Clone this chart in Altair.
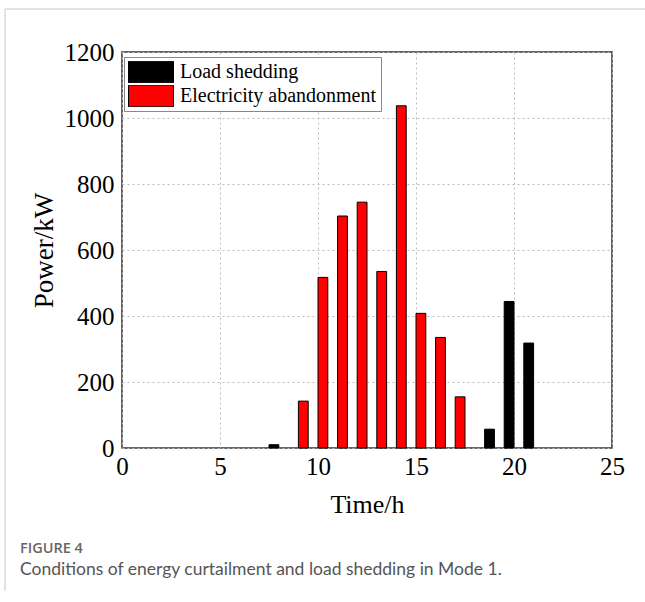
import altair as alt
import pandas as pd

# ---- data ----
shed_hours = [8, 19, 20, 21]
shed_values = [10, 57, 444, 318]
aband_hours = [9, 10, 11, 12, 13, 14, 15, 16, 17]
aband_values = [142, 517, 703, 745, 535, 1037, 408, 335, 155]
series_names = ["Load shedding", "Electricity abandonment"]
series_colors = ["#000000", "#ff0000"]
x_ticks = [0, 5, 10, 15, 20, 25]
y_ticks = [0, 200, 400, 600, 800, 1000, 1200]
caption_label = ["FIGURE 4"]
caption_text = ["Conditions of energy curtailment and load shedding in Mode 1."]

df = pd.concat([
    pd.DataFrame({"hour": shed_hours, "value": shed_values, "series": series_names[0]}),
    pd.DataFrame({"hour": aband_hours, "value": aband_values, "series": series_names[1]}),
], ignore_index=True)

serif = "Liberation Serif"
W, H = 490, 396

bars = alt.Chart(df).mark_bar(stroke="black", strokeWidth=1).transform_calculate(
    x0="datum.series == 'Load shedding' ? datum.hour - 0.5 : datum.hour",
    x1="datum.series == 'Load shedding' ? datum.hour : datum.hour + 0.5",
).encode(
    x=alt.X("x0:Q", scale=alt.Scale(domain=[0, 25], nice=False),
            axis=alt.Axis(values=x_ticks, title="Time/h", format="d",
                          labelFont=serif, labelFontSize=25, labelColor="black",
                          labelFlush=False,
                          titleFont=serif, titleFontSize=26, titleFontWeight="normal",
                          titleColor="black", labelPadding=6, titlePadding=12,
                          domain=False, ticks=False, grid=True,
                          gridDash=[2, 3], gridColor="#bbbbbb", gridWidth=1)),
    x2="x1:Q",
    y=alt.Y("value:Q", scale=alt.Scale(domain=[0, 1200], nice=False),
            axis=alt.Axis(values=y_ticks, title="Power/kW", format="d",
                          labelFont=serif, labelFontSize=25, labelColor="black",
                          labelFlush=False,
                          titleFont=serif, titleFontSize=27, titleFontWeight="normal",
                          titleColor="black", labelPadding=8, titlePadding=6,
                          domain=False, ticks=False, grid=True,
                          gridDash=[2, 3], gridColor="#bbbbbb", gridWidth=1)),
    y2=alt.datum(0),
    color=alt.Color("series:N", scale=alt.Scale(domain=series_names, range=series_colors),
                    legend=alt.Legend(title=None, orient="none", legendX=2, legendY=5,
                                      labelFont=serif, labelFontSize=20, labelColor="black",
                                      labelLimit=400,
                                      symbolType="M-1,-0.48H1V0.48H-1Z", symbolSize=2025,
                                      symbolStrokeColor="black", symbolStrokeWidth=1,
                                      symbolOpacity=1, clipHeight=22,
                                      fillColor="white", strokeColor="#888888",
                                      padding=4, rowPadding=2, labelOffset=6,
                                      offset=0)),
)

one = pd.DataFrame({"a": [0]})
frame_top = alt.Chart(one).mark_rule(color="#c8c8c8", strokeWidth=1).encode(
    x=alt.value(-117), x2=alt.value(W + 33), y=alt.value(-43))
frame_left = alt.Chart(one).mark_rule(color="#c8c8c8", strokeWidth=1).encode(
    x=alt.value(-117), y=alt.value(-43), y2=alt.value(H + 143))

cap1 = alt.Chart(pd.DataFrame({"t": caption_label})).mark_text(
    font="Open Sans", fontSize=14.5, fontWeight=600, color="#666666",
    align="left", baseline="middle").encode(
    text="t:N", x=alt.value(-102), y=alt.value(H + 101))
cap2 = alt.Chart(pd.DataFrame({"t": caption_text})).mark_text(
    font="Lato", fontSize=17.5, color="#555555",
    align="left", baseline="middle").encode(
    text="t:N", x=alt.value(-102), y=alt.value(H + 122))

chart = alt.layer(bars, frame_top, frame_left, cap1, cap2).properties(
    width=W, height=H,
    autosize=alt.AutoSizeParams(type="none"),
    padding={"left": 122, "top": 52, "right": 33, "bottom": 154},
).configure_view(stroke="#333333", strokeWidth=1.5)

chart.save("out.html", embed_options={"renderer": "svg", "actions": False})
